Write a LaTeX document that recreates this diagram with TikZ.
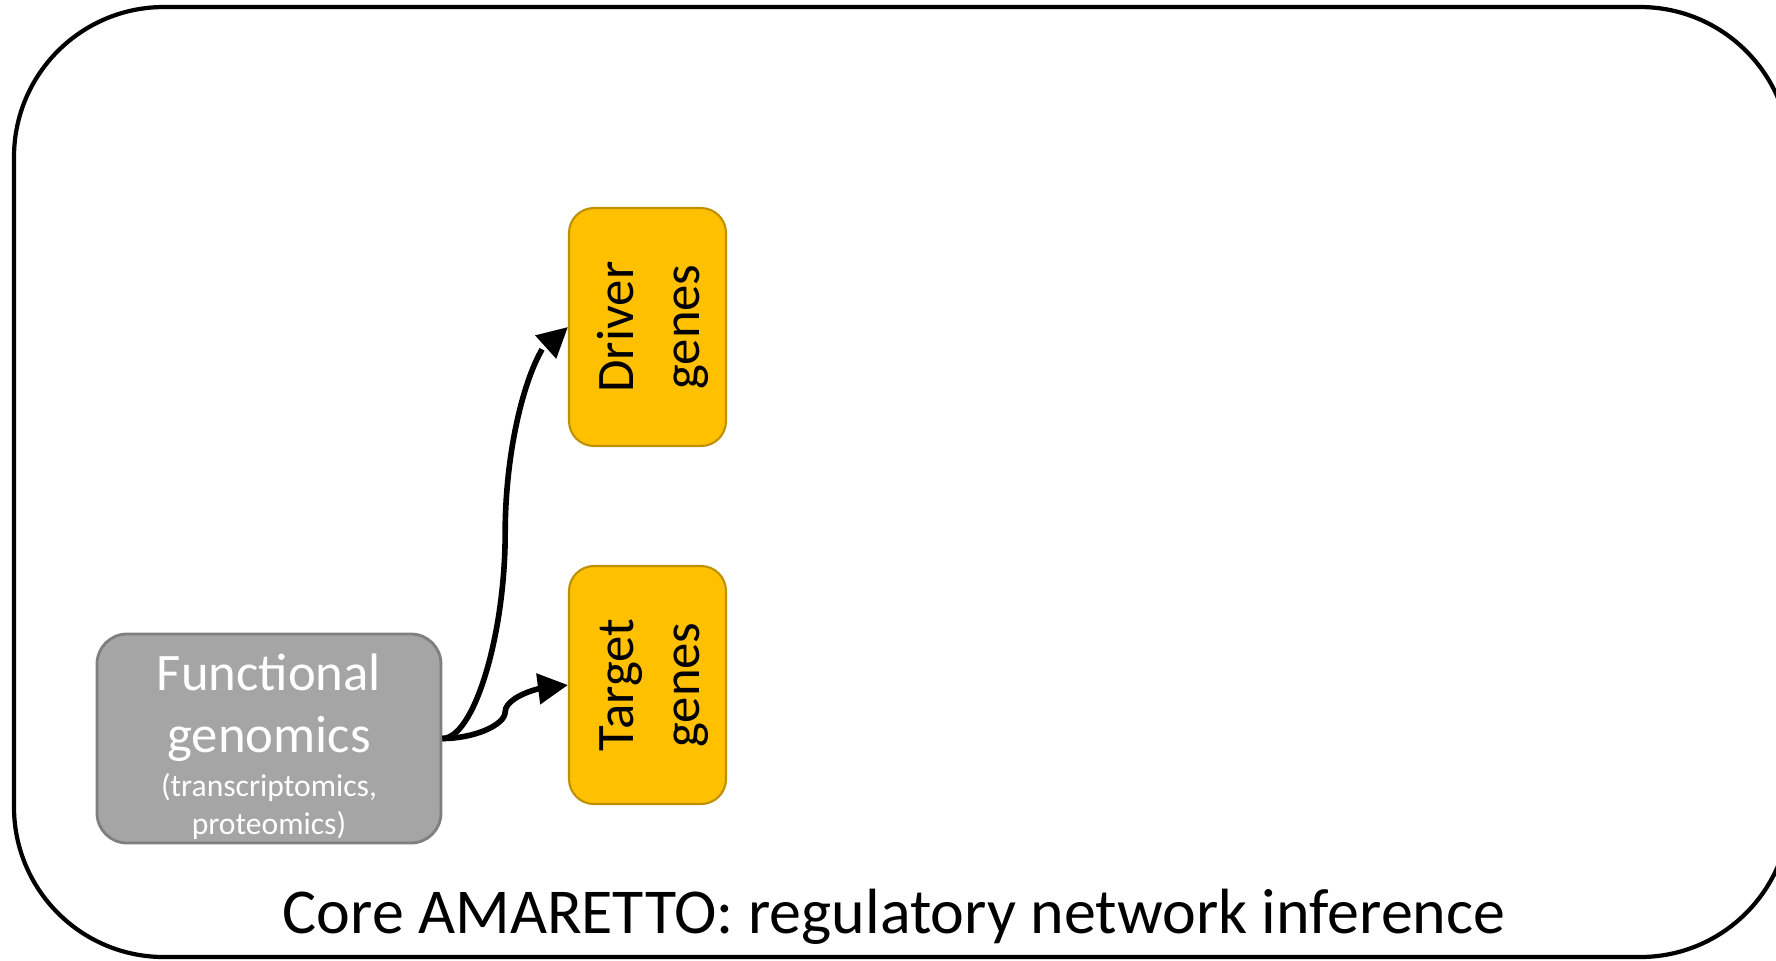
\documentclass[tikz,border=0pt]{standalone}
\usepackage{fontspec}
\setmainfont{Carlito}
\usepackage{tikz}
\usetikzlibrary{calc,arrows.meta,bending}
\definecolor{GenomicsGrey}{HTML}{A5A5A5}
\definecolor{GenomicsEdge}{HTML}{7F7F7F}
\definecolor{GeneGold}{HTML}{FFC000}
\definecolor{GeneEdge}{HTML}{BF9000}

\begin{document}
\begin{tikzpicture}[
	genebox/.style={draw=GeneEdge, line width=0.6pt, fill=GeneGold, rounded corners=0.25cm, minimum width=1.57cm, minimum height=2.38cm, inner sep=0pt, font=\fontsize{15}{18.6}\selectfont},
	conn/.style={line width=1.6pt, -{Triangle[length=3mm,width=3mm,flex]}}
	]
		\clip (0,0) rectangle (17.76,-9.6);
		\draw[line width=1.2pt, rounded corners=1.5cm] (0.14,-0.07) rectangle (17.9,-9.57);
		\node[draw=GenomicsEdge, line width=0.8pt, fill=GenomicsGrey, rounded corners=0.3cm, minimum width=3.44cm, minimum height=2.09cm, inner sep=0pt, align=center, text=white, font=\fontsize{15}{17.6}\selectfont] (func) at (2.69,-7.385) {\rule{0pt}{15pt}Functional\\genomics\\[-5pt]{\fontsize{9}{10.5}\selectfont (transcriptomics,}\\[-7pt]{\fontsize{9}{10.5}\selectfont proteomics)}};
		\node[genebox] (drv) at (6.475,-3.27) {\hspace*{0.12cm}\rotatebox{90}{\begin{tabular}{@{}c@{}}Driver\\genes\end{tabular}}};
		\node[genebox] (tgt) at (6.475,-6.85) {\hspace*{0.12cm}\rotatebox{90}{\begin{tabular}{@{}c@{}}Target\\genes\end{tabular}}};
		\coordinate (dmid) at ($(func.east)!0.5!(drv.west)$);
		\coordinate (tmid) at ($(func.east)!0.5!(tgt.west)$);
		\draw[conn] (func.east) .. controls ($(func.east)!0.5!(func.east -| dmid)$) and ($(dmid)!0.5!(func.east -| dmid)$) .. (dmid) .. controls ($(dmid)!0.5!(drv.west -| dmid)$) and ($(drv.west)!0.5!(drv.west -| dmid)$) .. (drv.west);
		\draw[conn] (func.east) .. controls ($(func.east)!0.5!(func.east -| tmid)$) and ($(tmid)!0.5!(func.east -| tmid)$) .. (tmid) .. controls ($(tmid)!0.5!(tgt.west -| tmid)$) and ($(tgt.west)!0.5!(tgt.west -| tmid)$) .. (tgt.west);
		\node[font=\fontsize{18.2}{21}\selectfont, anchor=base] (title) at (8.94,-9.33) {Core AMARETTO: regulatory network inference};
	\end{tikzpicture}
\end{document}
